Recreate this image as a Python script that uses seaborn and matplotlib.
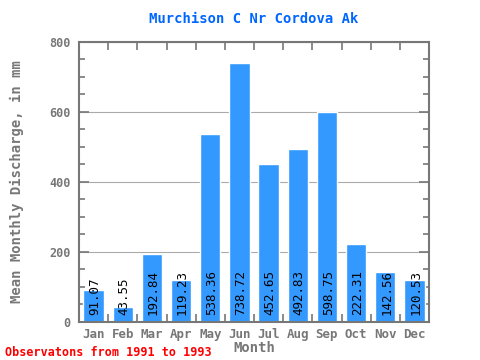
import numpy as np
import pandas as pd
import seaborn as sns
from matplotlib import pyplot as plt
from matplotlib.ticker import MultipleLocator

months = ['Jan', 'Feb', 'Mar', 'Apr', 'May', 'Jun', 'Jul', 'Aug', 'Sep', 'Oct', 'Nov', 'Dec']
discharge = [91.07, 43.55, 192.84, 119.23, 538.36, 738.72, 452.65, 492.83, 598.75, 222.31, 142.56, 120.53]


def main():
    df = pd.DataFrame({'Month': months, 'Discharge': discharge})

    sns.set_style('white')
    plt.rcParams['font.family'] = ['DejaVu Sans Mono']
    grey = '#777777'

    fig = plt.figure(figsize=(4.8, 3.6), dpi=100)
    ax = fig.add_axes([0.1646, 0.1056, 0.7292, 0.7778])

    sns.barplot(data=df, x='Month', y='Discharge', color='#3399ff', saturation=1,
                width=0.7, ax=ax, zorder=2)

    for i, v in enumerate(discharge):
        ax.annotate(f'{v:.2f}', (i, 0), xytext=(1, 5), textcoords='offset points',
                    rotation=90, ha='center', va='bottom', fontsize=9, color='black', zorder=3)

    ax.set_ylim(0, 800)
    ax.set_xlim(-0.5, 11.5)
    ax.yaxis.set_major_locator(MultipleLocator(200))
    ax.yaxis.set_minor_locator(MultipleLocator(50))
    ax.grid(axis='y', which='major', color='#aaaaaa', linewidth=0.8, zorder=0)
    ax.set_axisbelow(True)

    for s in ax.spines.values():
        s.set_color(grey)
        s.set_linewidth(1.5)

    ax.tick_params(axis='y', which='both', left=True, right=True, direction='in', colors=grey,
                   labelsize=8.5, length=4, width=1.2)
    ax.tick_params(axis='y', which='major', length=7, pad=6)
    ax.tick_params(axis='x', which='major', bottom=False, labelsize=9, colors=grey, pad=1)
    ax.set_xticks(np.arange(12))
    ax.set_xticks(np.arange(-0.5, 12, 1), minor=True)
    ax.tick_params(axis='x', which='minor', bottom=True, top=True, direction='in',
                   length=6, width=1.2, color=grey)
    for lab in ax.get_xticklabels() + ax.get_yticklabels():
        lab.set_fontweight('bold')

    ax.set_xlabel('Month', color=grey, fontsize=10, labelpad=0, fontweight='bold')
    ax.set_ylabel('Mean Monthly Discharge, in mm', color=grey, fontsize=10, labelpad=18,
                  fontweight='bold')
    ax.set_title('Murchison C Nr Cordova Ak', color='#0066ff', fontsize=10, pad=14,
                 fontweight='bold')

    fig.text(0.01, 0.01, 'Observatons from 1991 to 1993', color='red', fontsize=8.5,
             fontweight='bold')

    fig.savefig('out.png', dpi=100)


if __name__ == '__main__':
    main()
